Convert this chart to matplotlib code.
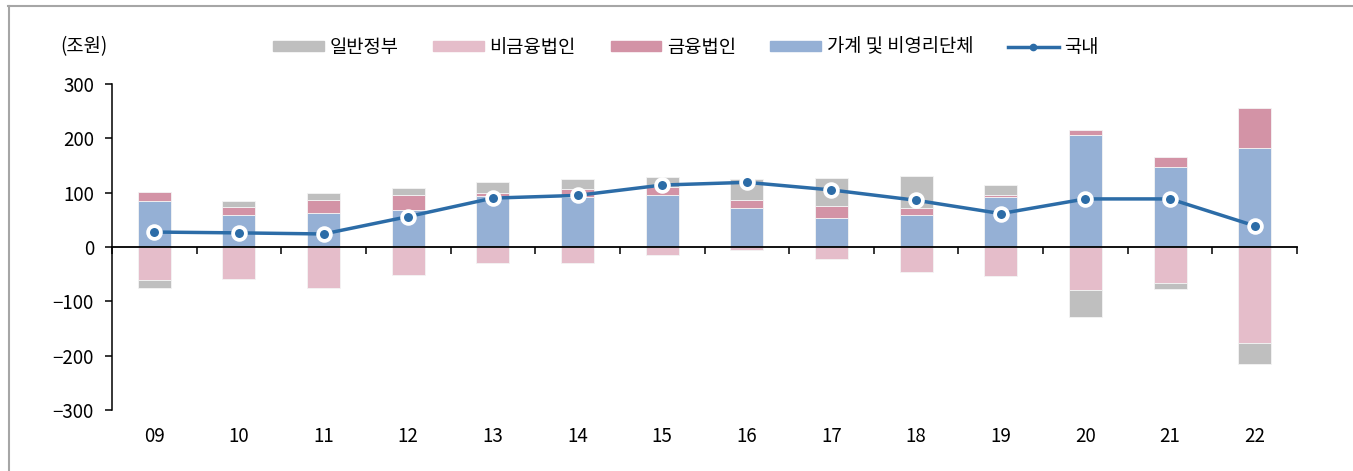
import numpy as np
import matplotlib
matplotlib.use('Agg')
import matplotlib.pyplot as plt
from matplotlib.patches import Patch
from matplotlib.lines import Line2D

plt.rcParams['font.family'] = ['Noto Sans CJK KR', 'DejaVu Sans']

years = ['09', '10', '11', '12', '13', '14', '15', '16', '17', '18', '19', '20', '21', '22']
household = [85, 59, 62, 68, 93, 92, 95, 71, 54, 58, 92, 207, 147, 183]
nonfin_corp = [-60, -59, -75, -52, -30, -30, -15, -6, -23, -46, -54, -80, -67, -177]
fin_corp = [17, 14, 24, 27, 7, 15, 15, 16, 22, 14, 3, 8, 18, 72]
government = [-15, 11, 13, 14, 20, 18, 19, 38, 51, 58, 19, -48, -11, -39]
domestic = [27.5, 26, 24, 56, 90, 95, 114, 119, 105, 86, 61.5, 88.5, 88.5, 39]

series = [
    ('가계 및 비영리단체', household, '#95b0d5'),
    ('비금융법인', nonfin_corp, '#e5bdca'),
    ('금융법인', fin_corp, '#d393a6'),
    ('일반정부', government, '#bfbfbf'),
]
line_color = '#2c6ca7'
fs = 13.5

W, H = 1353, 471
fig = plt.figure(figsize=(W / 100, H / 100), dpi=100)
ax = fig.add_axes([112 / W, 1 - 410 / H, (1297 - 112) / W, (410 - 84) / H])

x = np.arange(len(years))
pos_base = np.zeros(len(years))
neg_base = np.zeros(len(years))
for name, vals, color in series:
    vals = np.array(vals, dtype=float)
    bottom = np.where(vals >= 0, pos_base, neg_base)
    ax.bar(x, vals, width=0.39, bottom=bottom, color=color,
           edgecolor='#f4f4f4', linewidth=0.6, zorder=2)
    pos_base = pos_base + np.where(vals >= 0, vals, 0)
    neg_base = neg_base + np.where(vals < 0, vals, 0)

ax.plot(x, domestic, color=line_color, lw=2.5, marker='o', ms=9.2,
        mfc=line_color, mec='white', mew=2.7, zorder=4)

ax.set_xlim(-0.5, len(years) - 0.5)
ax.set_ylim(-300, 300)
ax.set_yticks(range(-300, 301, 100))
ax.set_xticks(np.arange(-0.5, len(years), 1))
ax.set_xticklabels([])
ax.tick_params(axis='y', direction='out', length=5, width=1.1, pad=8, labelsize=fs)
ax.tick_params(axis='x', direction='out', length=5, width=1.1)
for s in ['top', 'right']:
    ax.spines[s].set_visible(False)
ax.spines['bottom'].set_position(('data', 0))
ax.spines['bottom'].set_linewidth(1.3)
ax.spines['left'].set_linewidth(1.1)
ax.spines['bottom'].set_zorder(3)

for i, lab in enumerate(years):
    ax.text(i, -0.08, lab, transform=ax.get_xaxis_transform(),
            ha='center', va='center', fontsize=fs)

fig.text(84 / W, 1 - 47 / H, '(조원)', ha='center', va='center', fontsize=fs)

handles = [Patch(color='#bfbfbf'), Patch(color='#e5bdca'), Patch(color='#d393a6'),
           Patch(color='#95b0d5'),
           Line2D([], [], color=line_color, lw=2.5, marker='o', ms=4.5)]
labels = ['일반정부', '비금융법인', '금융법인', '가계 및 비영리단체', '국내']
fig.legend(handles, labels, loc='center', bbox_to_anchor=(686 / W, 1 - 47 / H),
           ncol=5, frameon=False, fontsize=fs, handlelength=2.7,
           handleheight=0.5, handletextpad=0.3, columnspacing=1.85)

# outer frame lines (top and left)
fig.add_artist(Line2D([8 / W, 1], [1 - 5.5 / H, 1 - 5.5 / H], color='#a6a6a6', lw=1.5,
                      transform=fig.transFigure))
fig.add_artist(Line2D([8.5 / W, 8.5 / W], [0, 1 - 5.5 / H], color='#a6a6a6', lw=1.5,
                      transform=fig.transFigure))

fig.savefig('out.png', dpi=100)
